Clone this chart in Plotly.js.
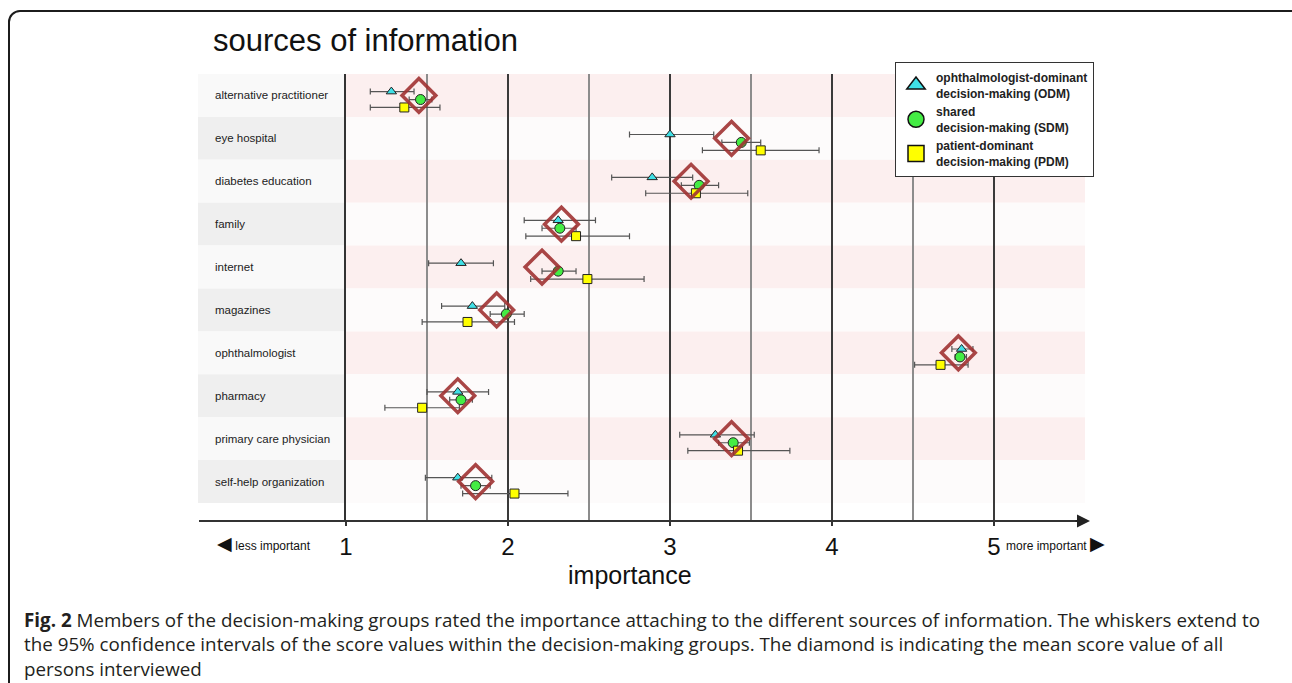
<!DOCTYPE html>
<html>
<head>
<meta charset="utf-8">
<script src="https://cdn.plot.ly/plotly-3.0.1.min.js"></script>
<style>
html, body { margin: 0; padding: 0; background: #ffffff; overflow: hidden; }
#chart { width: 1292px; height: 683px; }
#frame { position: absolute; left: 8px; top: 10px; width: 1310px; height: 700px;
         border: 2px solid #1c1c1c; border-radius: 12px; pointer-events: none; }
</style>
</head>
<body>
<div id="chart"></div>
<div id="frame"></div>
<script>
// ---------------- data ----------------
const categories = ['alternative practitioner', 'eye hospital', 'diabetes education', 'family',
  'internet', 'magazines', 'ophthalmologist', 'pharmacy', 'primary care physician',
  'self-help organization'];

const odmMean = [1.28, 3.00, 2.89, 2.31, 1.71, 1.78, 4.80, 1.69, 3.28, 1.69];
const odmLow  = [1.15, 2.75, 2.64, 2.10, 1.51, 1.59, 4.74, 1.50, 3.06, 1.49];
const odmHigh = [1.42, 3.27, 3.14, 2.54, 1.91, 1.98, 4.87, 1.88, 3.52, 1.90];

const sdmMean = [1.46, 3.44, 3.18, 2.32, 2.31, 1.99, 4.79, 1.71, 3.39, 1.80];
const sdmLow  = [1.39, 3.32, 3.07, 2.21, 2.21, 1.89, 4.76, 1.64, 3.30, 1.71];
const sdmHigh = [1.53, 3.56, 3.30, 2.42, 2.42, 2.10, 4.83, 1.78, 3.49, 1.89];

const pdmMean = [1.36, 3.56, 3.16, 2.42, 2.49, 1.75, 4.67, 1.47, 3.42, 2.04];
const pdmLow  = [1.15, 3.20, 2.85, 2.11, 2.14, 1.47, 4.51, 1.24, 3.11, 1.72];
const pdmHigh = [1.58, 3.92, 3.48, 2.75, 2.84, 2.04, 4.84, 1.70, 3.74, 2.37];

const allMean = [1.45, 3.38, 3.13, 2.33, 2.21, 1.93, 4.78, 1.69, 3.38, 1.80];

const groupNames = ['ophthalmologist-dominant<br>decision-making (ODM)',
                    'shared<br>decision-making (SDM)',
                    'patient-dominant<br>decision-making (PDM)'];
const tickValues = [1, 2, 3, 4, 5];
const tickLabels = ['1', '2', '3', '4', '5'];
const halfTickValues = [1.5, 2.5, 3.5, 4.5];

const titleText = 'sources of information';
const axisTitle = 'importance';
const lessText = 'less important';
const moreText = 'more important';
const captionText = '<b>Fig. 2</b> Members of the decision-making groups rated the importance attaching to the different sources of information. The whiskers extend to<br>' +
  'the 95% confidence intervals of the score values within the decision-making groups. The diamond is indicating the mean score value of all<br>' +
  'persons interviewed';

// ---------------- geometry / style ----------------
const W = 1292, H = 683;
const L = 346, R = 1085, T = 74, B = 521;
const pxPerUnit = 162;
const px2x = p => (p - L) / (R - L);
const py2y = p => (B - p) / (B - T);
const FONT = 'Liberation Sans, Arial, Helvetica, sans-serif';

const offsets = { odm: -0.09, sdm: 0.095, pdm: 0.28 };
const colors = { odm: '#3fe0e6', sdm: '#44ec44', pdm: '#ffff00', diamond: '#a03232' };

function groupTrace(mean, lo, hi, off, symbol, size, color) {
  return {
    type: 'scatter', mode: 'markers',
    x: mean,
    y: categories.map((c, i) => i + off),
    error_x: {
      type: 'data', symmetric: false,
      array: hi.map((h, i) => h - mean[i]),
      arrayminus: mean.map((m, i) => m - lo[i]),
      color: '#555555', thickness: 1.2, width: 3
    },
    marker: { symbol: symbol, size: size, color: color, line: { color: '#222222', width: 1 } },
    showlegend: false, hoverinfo: 'skip', cliponaxis: false
  };
}

const traces = [
  groupTrace(odmMean, odmLow, odmHigh, offsets.odm, 'triangle-up', 9, colors.odm),
  groupTrace(sdmMean, sdmLow, sdmHigh, offsets.sdm, 'circle', 10, colors.sdm),
  groupTrace(pdmMean, pdmLow, pdmHigh, offsets.pdm, 'square', 9, colors.pdm),
  {
    type: 'scatter', mode: 'markers',
    x: allMean, y: categories.map((c, i) => i),
    marker: { symbol: 'diamond-open', size: 26, color: colors.diamond, opacity: 0.9,
              line: { color: colors.diamond, width: 3.5 } },
    showlegend: false, hoverinfo: 'skip', cliponaxis: false
  },
  // legend entries
  { type: 'scatter', mode: 'markers', x: [null], y: [null], name: groupNames[0],
    marker: { symbol: 'triangle-up', size: 20, color: colors.odm, line: { color: '#111', width: 1.5 } } },
  { type: 'scatter', mode: 'markers', x: [null], y: [null], name: groupNames[1],
    marker: { symbol: 'circle', size: 20, color: colors.sdm, line: { color: '#111', width: 1.5 } } },
  { type: 'scatter', mode: 'markers', x: [null], y: [null], name: groupNames[2],
    marker: { symbol: 'square', size: 20, color: colors.pdm, line: { color: '#111', width: 1.5 } } }
];

// background bands
const shapes = [];
categories.forEach((c, i) => {
  shapes.push({ type: 'rect', xref: 'paper', yref: 'y', x0: px2x(198), x1: 0, y0: i - 0.5, y1: i + 0.5,
    fillcolor: i % 2 ? '#efefef' : '#f9f9f9', line: { width: 0 }, layer: 'below' });
  shapes.push({ type: 'rect', xref: 'paper', yref: 'y', x0: 0, x1: 1, y0: i - 0.5, y1: i + 0.5,
    fillcolor: i % 2 ? '#fdfbfb' : '#fcefef', line: { width: 0 }, layer: 'below' });
});
// extended axis line
shapes.push({ type: 'line', xref: 'paper', yref: 'paper', x0: px2x(199), x1: px2x(1080), y0: 0, y1: 0,
  line: { color: '#333333', width: 2 }, layer: 'above' });

const annotations = [];
categories.forEach((c, i) => {
  annotations.push({ xref: 'paper', yref: 'y', x: px2x(213), y: i, text: c, showarrow: false,
    xanchor: 'left', yanchor: 'middle', font: { family: FONT, size: 11.5, color: '#222' } });
});
annotations.push({ xref: 'paper', yref: 'paper', x: px2x(1090), y: 0, ax: -16, ay: 0, text: '',
  showarrow: true, arrowhead: 2, arrowsize: 1.3, arrowwidth: 2, arrowcolor: '#222' });
annotations.push({ xref: 'paper', yref: 'paper', x: px2x(215), y: py2y(543), text:
  '<span style="font-size:19px">\u25C0</span> ' + lessText, showarrow: false, xanchor: 'left', yanchor: 'middle',
  font: { family: FONT, size: 12, color: '#111' } });
annotations.push({ xref: 'paper', yref: 'paper', x: px2x(1107), y: py2y(543), text:
  moreText + ' <span style="font-size:19px">\u25B6</span>', showarrow: false, xanchor: 'right', yanchor: 'middle',
  font: { family: FONT, size: 12, color: '#111' } });
annotations.push({ xref: 'paper', yref: 'paper', x: px2x(630), y: py2y(575), text: axisTitle, showarrow: false,
  xanchor: 'center', yanchor: 'middle', font: { family: FONT, size: 25, color: '#111' } });
annotations.push({ xref: 'paper', yref: 'paper', x: px2x(22), y: py2y(605), text: captionText, showarrow: false,
  xanchor: 'left', yanchor: 'top', align: 'left', font: { family: 'Open Sans, sans-serif', size: 18.8, color: '#231f20' } });

const layout = {
  width: W, height: H,
  margin: { l: L, r: W - R, t: T, b: H - B, pad: 0 },
  paper_bgcolor: '#ffffff', plot_bgcolor: 'rgba(0,0,0,0)',
  title: { text: titleText, x: 213 / W, xanchor: 'left', xref: 'container', y: 1 - 40 / H, yanchor: 'middle',
           font: { family: FONT, size: 31, color: '#111' } },
  xaxis: {
    range: [1, 1 + (R - L) / pxPerUnit], tickmode: 'array', tickvals: tickValues, ticktext: tickLabels,
    showgrid: true, gridcolor: '#3a3a3a', gridwidth: 1.8,
    minor: { tickmode: 'array', tickvals: halfTickValues, showgrid: true, gridcolor: '#8c8c8c', gridwidth: 1.2, ticks: '' },
    ticks: 'outside', ticklen: 4, tickwidth: 2, tickcolor: '#333',
    showline: false, zeroline: false,
    tickfont: { family: FONT, size: 24, color: '#111' }, ticklabelstandoff: 0
  },
  yaxis: {
    range: [-0.5 + (B - T) / 42.9, -0.5], showticklabels: false, showgrid: false, zeroline: false,
    showline: true, linecolor: '#333', linewidth: 2, ticks: ''
  },
  showlegend: true,
  legend: {
    x: px2x(895), y: py2y(62), xanchor: 'left', yanchor: 'top', bgcolor: '#ffffff',
    bordercolor: '#333333', borderwidth: 1, itemsizing: 'trace', tracegroupgap: 0,
    font: { family: FONT, size: 12, color: '#222', weight: 'bold' }
  },
  shapes: shapes,
  annotations: annotations
};

Plotly.newPlot('chart', traces, layout, { displayModeBar: false, staticPlot: true });
</script>
</body>
</html>
